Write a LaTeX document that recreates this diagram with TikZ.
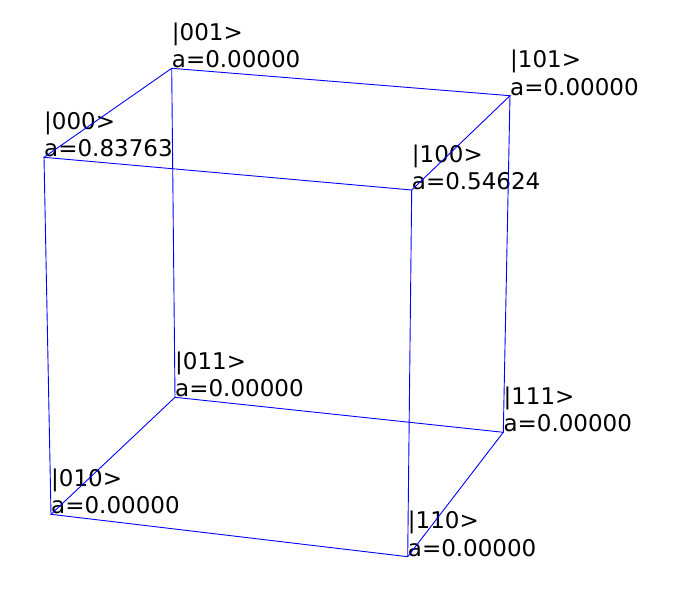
\documentclass[tikz,border=0pt]{standalone}
\usepackage{fontspec}
\setmainfont{DejaVu Sans}
\usepackage{tikz}
\usetikzlibrary{positioning,calc}
\definecolor{cubeblue}{RGB}{0,0,255}
\tikzset{
  ket/.style={anchor=south west, inner sep=0pt, align=left,
    font=\fontsize{23}{27.3}\selectfont},
  edge/.style={cubeblue, line width=0.9pt}
}

\begin{document}
\begin{tikzpicture}[x=1pt, y=-1pt]
    \useasboundingbox (0,0) rectangle (678,590);
    % cube corners
    \coordinate (v000) at (44,157.3);
    \coordinate (v001) at (171.7,68.3);
    \coordinate (v101) at (510,95.7);
    \coordinate (v100) at (411.7,190);
    \coordinate (v010) at (51,514.3);
    \coordinate (v011) at (175,397.3);
    \coordinate (v111) at (503.3,432.3);
    \coordinate (v110) at (407.7,556.7);
    % amplitudes
    \node[ket] (l000) at (v000) {|000>\\a=0.83763};
    \node[ket] (l001) at (v001) {|001>\\a=0.00000};
    \node[ket] (l101) at (v101) {|101>\\a=0.00000};
    \node[ket] (l100) at (v100) {|100>\\a=0.54624};
    \node[ket] (l010) at (v010) {|010>\\a=0.00000};
    \node[ket] (l011) at (v011) {|011>\\a=0.00000};
    \node[ket] (l111) at (v111) {|111>\\a=0.00000};
    \node[ket] (l110) at (v110) {|110>\\a=0.00000};
    % edges
    \draw[edge] (v000) -- (v001) -- (v101) -- (v100) -- cycle;
    \draw[edge] (v010) -- (v011) -- (v111) -- (v110) -- cycle;
    \draw[edge] (v000) -- (v010);
    \draw[edge] (v001) -- (v011);
    \draw[edge] (v101) -- (v111);
    \draw[edge] (v100) -- (v110);
  \end{tikzpicture}
\end{document}
